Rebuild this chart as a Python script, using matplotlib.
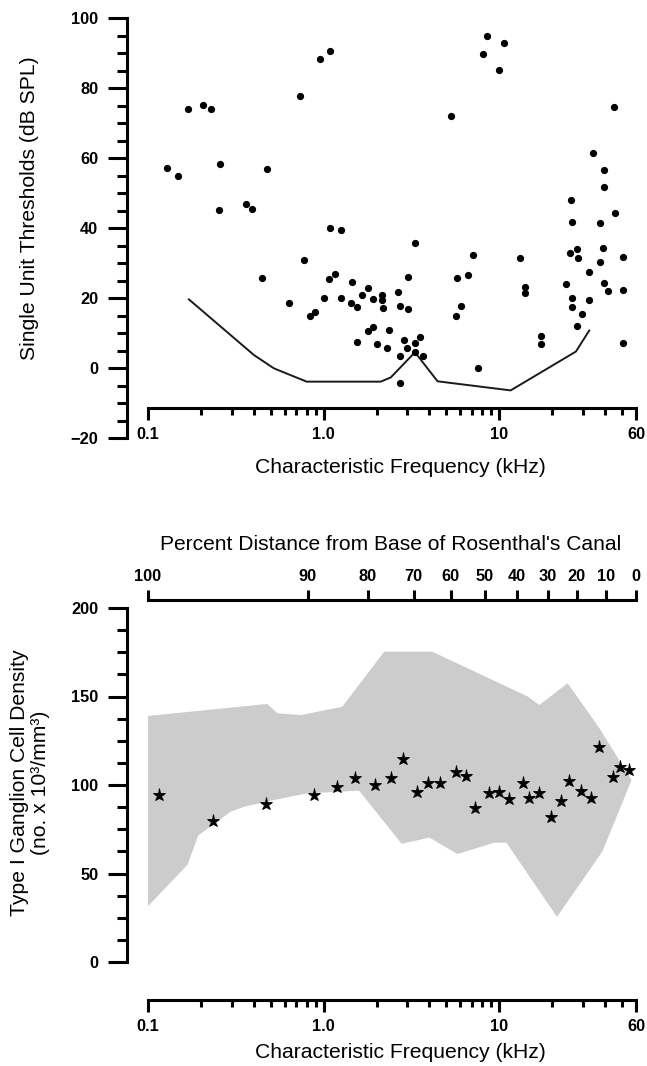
import matplotlib
matplotlib.use('Agg')
import matplotlib.pyplot as plt
from matplotlib.ticker import FixedLocator, FixedFormatter, MultipleLocator, NullLocator, NullFormatter

plt.rcParams['font.family'] = ['Liberation Sans', 'DejaVu Sans']

# ---------------- data: top panel (single-unit thresholds) ----------------
unit_cf = [1.087, 0.952, 0.733, 0.1695, 0.206, 0.227, 0.129, 0.148, 0.258, 0.475,
           0.253, 0.359, 0.390, 1.087, 1.26, 8.52, 10.65, 8.05, 9.93, 5.34,
           44.9, 34.2, 39.4, 39.4, 25.7, 26.0, 37.2, 45.7, 0.769, 0.443,
           1.078, 1.166, 1.45, 1.79, 0.637, 1.009, 1.255, 1.654, 1.90, 1.438,
           1.55, 0.832, 0.892, 1.78, 1.92, 1.54, 2.0, 2.16, 2.14, 2.18,
           2.66, 2.71, 3.04, 3.04, 3.31, 2.34, 2.29, 2.87, 2.97, 3.30,
           3.54, 2.71, 3.33, 3.66, 2.72, 5.75, 6.61, 7.09, 6.03, 5.70,
           7.54, 13.1, 13.98, 13.98, 17.2, 17.2, 25.3, 27.7, 28.0, 37.2,
           39.0, 32.4, 24.1, 26.0, 26.0, 32.5, 29.5, 27.6, 39.2, 41.7,
           50.8, 50.3, 50.8]
unit_thr = [90.7, 88.2, 77.6, 73.9, 75.1, 74.1, 57.1, 54.9, 58.2, 56.9,
            45.1, 46.8, 45.3, 40.1, 39.4, 94.9, 92.8, 89.8, 85.1, 72.1,
            74.7, 61.5, 56.5, 51.6, 48.0, 41.7, 41.4, 44.3, 30.9, 25.7,
            25.4, 26.8, 24.7, 22.9, 18.7, 20.1, 20.0, 20.8, 19.7, 18.5,
            17.3, 14.9, 16.0, 10.6, 11.8, 7.4, 6.9, 21.0, 19.4, 17.2,
            21.7, 17.7, 16.9, 25.9, 35.6, 10.8, 5.7, 7.9, 5.8, 7.2,
            8.8, 3.3, 4.7, 3.3, -4.3, 25.8, 26.5, 32.4, 17.7, 14.9,
            -0.1, 31.4, 23.1, 21.5, 9.1, 6.8, 32.8, 33.9, 31.3, 30.4,
            34.4, 27.5, 24.1, 19.9, 17.3, 19.3, 15.4, 11.9, 24.3, 22.1,
            31.7, 22.3, 7.2]

floor_cf = [0.171, 0.401, 0.521, 0.80, 2.11, 2.41, 3.31, 4.45, 11.6, 27.3, 32.5]
floor_thr = [19.6, 3.7, -0.1, -3.9, -3.9, -2.7, 4.5, -3.8, -6.4, 4.7, 10.7]

# ---------------- data: bottom panel (ganglion cell density) ----------------
density_cf = [0.115, 0.235, 0.467, 0.88, 1.186, 1.50, 1.95, 2.41, 2.83, 3.42,
              3.95, 4.60, 5.65, 6.50, 7.29, 8.75, 9.91, 11.36, 13.56, 14.8,
              16.8, 19.7, 22.4, 24.8, 29.0, 33.3, 36.8, 44.2, 48.8, 54.4]
density = [94.4, 79.4, 89.3, 94.4, 98.8, 103.7, 99.8, 103.8, 114.7, 95.9,
           100.9, 100.9, 107.5, 105.1, 86.9, 95.6, 96.2, 92.3, 100.9, 92.8,
           95.7, 82.0, 90.9, 102.4, 96.8, 92.6, 121.3, 104.7, 110.2, 108.3]

range_upper_cf = [0.1, 0.478, 0.545, 0.740, 1.277, 2.21, 4.16, 14.5, 16.9, 24.5, 36.9, 56.6]
range_upper = [139, 145.8, 140.5, 139.5, 144.2, 175.3, 175.3, 150, 145.2, 157.5, 132.5, 102.8]
range_lower_cf = [0.1, 0.168, 0.193, 0.295, 0.352, 0.521, 0.807, 1.59, 2.78, 4.0,
                  5.78, 9.35, 10.98, 21.3, 38.7, 56.6]
range_lower = [31.5, 55, 71.4, 84.9, 87.7, 91.5, 95.3, 96.8, 66.8, 70.3,
               61, 67.4, 67.4, 25.5, 62.6, 102.8]

# ---------------- ticks ----------------
cf_ticks = [0.1, 1, 10, 60]
cf_ticklabels = ['0.1', '1.0', '10', '60']
cf_minor = [0.2, 0.3, 0.4, 0.5, 0.6, 0.7, 0.8, 0.9, 2, 3, 4, 5, 6, 7, 8, 9, 20, 30, 40, 50]
thr_ticks = [-20, 0, 20, 40, 60, 80, 100]
dens_ticks = [0, 50, 100, 150, 200]
percent_labels = ['100', '90', '80', '70', '60', '50', '40', '30', '20', '10', '0']
percent_cf = [0.1, 0.811, 1.78, 3.26, 5.29, 8.27, 12.58, 18.9, 27.6, 40.4, 60]

W, H = 647, 1066
PT = 0.72  # points per pixel at 100 dpi
LW = 2.2
TICKFS = 11.8
LABFS = 15.2


def rect(l, t, r, b):
    return [l / W, 1 - b / H, (r - l) / W, (b - t) / H]


def bold_ticklabels(ax):
    for lab in ax.get_xticklabels() + ax.get_yticklabels():
        lab.set_fontweight('bold')


def style_cf_axis(ax):
    ax.set_xscale('log')
    ax.set_xlim(0.1, 60)
    ax.xaxis.set_major_locator(FixedLocator(cf_ticks))
    ax.xaxis.set_major_formatter(FixedFormatter(cf_ticklabels))
    ax.xaxis.set_minor_locator(FixedLocator(cf_minor))
    ax.xaxis.set_minor_formatter(NullFormatter())
    ax.tick_params(axis='x', which='major', direction='out', length=12 * PT,
                   width=LW, pad=5, labelsize=TICKFS)
    ax.tick_params(axis='x', which='minor', direction='out', length=7 * PT, width=LW)
    ax.spines['bottom'].set_linewidth(LW)
    ax.spines['bottom'].set_bounds(0.1, 60)


fig = plt.figure(figsize=(W / 100, H / 100), dpi=100)

# ---------------- top panel ----------------
ax1 = fig.add_axes(rect(148, 18, 636, 438))
ax1.plot(floor_cf, floor_thr, color='#1a1a1a', lw=1.4, zorder=2)
ax1.plot(unit_cf, unit_thr, 'o', color='black', ms=4.2, zorder=3, clip_on=False)
style_cf_axis(ax1)
ax1.set_ylim(-20, 100)
ax1.spines['top'].set_visible(False)
ax1.spines['right'].set_visible(False)
ax1.spines['left'].set_position(('outward', 21 * PT))
ax1.spines['left'].set_bounds(-20, 100)
ax1.spines['left'].set_linewidth(LW)
ax1.spines['bottom'].set_position(('data', -11.5))
ax1.yaxis.set_major_locator(FixedLocator(thr_ticks))
ax1.yaxis.set_minor_locator(MultipleLocator(5))
ax1.tick_params(axis='y', which='major', direction='out', length=19 * PT,
                width=LW, pad=7, labelsize=TICKFS)
ax1.tick_params(axis='y', which='minor', direction='out', length=10 * PT, width=LW)
ax1.patch.set_visible(False)
bold_ticklabels(ax1)

fig.text(400 / W, 1 - 468 / H, 'Characteristic Frequency (kHz)', ha='center',
         va='center', fontsize=LABFS)
fig.text(30 / W, 1 - 208 / H, 'Single Unit Thresholds (dB SPL)', ha='center',
         va='center', rotation=90, fontsize=LABFS)

# ---------------- bottom panel ----------------
ax2 = fig.add_axes(rect(148, 608, 636, 962))
fill_x = list(range_upper_cf) + list(reversed(range_lower_cf))
fill_y = list(range_upper) + list(reversed(range_lower))
ax2.fill(fill_x, fill_y, color='#cccccc', lw=0, zorder=1)
ax2.plot(density_cf, density, '*', color='black', ms=9.5, mec='black', mew=0.6,
         zorder=3, clip_on=False)
style_cf_axis(ax2)
ax2.set_ylim(0, 200)
ax2.spines['top'].set_visible(False)
ax2.spines['right'].set_visible(False)
ax2.spines['left'].set_position(('outward', 21 * PT))
ax2.spines['left'].set_bounds(0, 200)
ax2.spines['left'].set_linewidth(LW)
ax2.spines['bottom'].set_position(('outward', 38 * PT))
ax2.yaxis.set_major_locator(FixedLocator(dens_ticks))
ax2.yaxis.set_minor_locator(MultipleLocator(12.5))
ax2.tick_params(axis='y', which='major', direction='out', length=19 * PT,
                width=LW, pad=7, labelsize=TICKFS)
ax2.tick_params(axis='y', which='minor', direction='out', length=10 * PT, width=LW)
ax2.patch.set_visible(False)
bold_ticklabels(ax2)

ax3 = ax2.twiny()
ax3.set_xscale('log')
ax3.set_xlim(0.1, 60)
for s in ['bottom', 'left', 'right']:
    ax3.spines[s].set_visible(False)
ax3.spines['top'].set_position(('outward', 8 * PT))
ax3.spines['top'].set_bounds(0.1, 60)
ax3.spines['top'].set_linewidth(LW)
ax3.xaxis.set_major_locator(FixedLocator(percent_cf))
ax3.xaxis.set_major_formatter(FixedFormatter(percent_labels))
ax3.xaxis.set_minor_locator(NullLocator())
ax3.tick_params(axis='x', which='major', direction='out', length=10 * PT,
                width=LW, pad=4, labelsize=TICKFS)
ax3.patch.set_visible(False)
bold_ticklabels(ax3)

fig.text(391 / W, 1 - 545 / H, "Percent Distance from Base of Rosenthal's Canal",
         ha='center', va='center', fontsize=15.1)
fig.text(30 / W, 1 - 783 / H, 'Type I Ganglion Cell Density\n(no. x 10³/mm³)',
         ha='center', va='center', rotation=90, fontsize=LABFS,
         multialignment='center', linespacing=1.15)
fig.text(400 / W, 1 - 1053 / H, 'Characteristic Frequency (kHz)', ha='center',
         va='center', fontsize=LABFS)

fig.savefig('out.png', dpi=100)
